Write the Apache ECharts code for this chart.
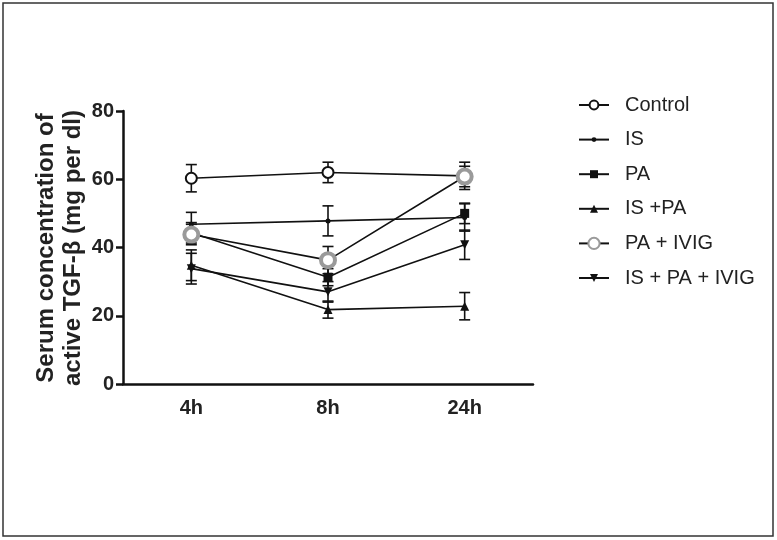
<!DOCTYPE html>
<html>
<head>
<meta charset="utf-8">
<script src="https://cdn.jsdelivr.net/npm/echarts@6/dist/echarts.min.js"></script>
<style>
  html, body { margin: 0; padding: 0; background: #fff; }
  #chart { width: 777px; height: 540px; }
</style>
</head>
<body>
<div id="chart"></div>
<script>
// time points
const categories = ['4h', '8h', '24h']

// means and errors per group
const control = [60.3, 62.0, 61.0]
const controlErr = [4, 3, 4]
const isGroup = [46.8, 47.8, 48.8]
const isErr = [3.5, 4.4, 4]
const pa = [44.3, 31.3, 50.0]
const paErr = [3, 2.5, 3]
const isPa = [34.8, 21.8, 22.8]
const isPaErr = [4.5, 2.5, 4]
const paIvig = [43.8, 36.3, 60.8]
const paIvigErr = [3, 4, 3]
const isPaIvig = [33.8, 27.0, 40.8]
const isPaIvigErr = [4.5, 3, 4.3]

const seriesNames = ['Control', 'IS', 'PA', 'IS +PA', 'PA + IVIG', 'IS + PA + IVIG']

const chart = echarts.init(document.getElementById('chart'))

function errData(vals, errs) {
  return vals.map((v, i) => [i, v - errs[i], v + errs[i]])
}

function errSeries(name, vals, errs) {
  return {
    name: name,
    type: 'custom',
    z: 1,
    silent: true,
    data: errData(vals, errs),
    renderItem: function (params, api) {
      const x = api.value(0)
      const lo = api.coord([x, api.value(1)])
      const hi = api.coord([x, api.value(2)])
      const hw = 5.5
      const style = { stroke: '#111', lineWidth: 1.6 }
      return {
        type: 'group',
        children: [
          { type: 'line', shape: { x1: lo[0], y1: lo[1], x2: hi[0], y2: hi[1] }, style: style },
          { type: 'line', shape: { x1: lo[0] - hw, y1: lo[1], x2: lo[0] + hw, y2: lo[1] }, style: style },
          { type: 'line', shape: { x1: hi[0] - hw, y1: hi[1], x2: hi[0] + hw, y2: hi[1] }, style: style }
        ]
      }
    }
  }
}

function lineSeries(name, vals, symbol, size, itemStyle) {
  return {
    name: name,
    type: 'line',
    z: 3,
    data: vals,
    symbol: symbol,
    symbolSize: size,
    showAllSymbol: true,
    lineStyle: { color: '#111', width: 1.6 },
    itemStyle: itemStyle,
    emphasis: { disabled: true }
  }
}

// one legend per entry so each icon can keep its own marker size
const legendIconH = [11, 6, 10, 10, 14, 10]
const legends = seriesNames.map((name, i) => ({
  data: [name],
  left: 578,
  top: 95 + i * 34.6,
  padding: 0,
  itemWidth: 30,
  itemHeight: legendIconH[i],
  selectedMode: false,
  textStyle: { fontSize: 20, color: '#222', padding: [0, 0, 0, 11], lineHeight: 20 }
}))

const option = {
  animation: false,
  backgroundColor: '#fff',
  textStyle: { fontFamily: 'Liberation Sans, Arial, sans-serif' },
  graphic: [
    {
      type: 'rect',
      shape: { x: 3, y: 3, width: 770, height: 533 },
      style: { fill: 'none', stroke: '#333', lineWidth: 1.5 }
    },
    {
      type: 'text',
      x: 60,
      y: 248,
      rotation: Math.PI / 2,
      style: {
        text: 'Serum concentration of\nactive TGF-β (mg per dl)',
        font: 'bold 24px Liberation Sans, Arial, sans-serif',
        fill: '#222',
        align: 'center',
        verticalAlign: 'middle',
        lineHeight: 27
      }
    }
  ],
  legend: legends,
  grid: { left: 123, right: 244, top: 111, bottom: 156 },
  xAxis: {
    type: 'category',
    data: categories,
    boundaryGap: true,
    axisLine: { lineStyle: { color: '#111', width: 2.5 } },
    axisTick: { alignWithLabel: true, length: 7, lineStyle: { color: '#111', width: 2.5 } },
    axisLabel: { fontSize: 20, fontWeight: 'bold', color: '#222', margin: 14 }
  },
  yAxis: {
    type: 'value',
    min: 0,
    max: 80,
    interval: 20,
    axisLine: { show: true, lineStyle: { color: '#111', width: 2.5 } },
    axisTick: { show: true, length: 7, lineStyle: { color: '#111', width: 2.5 } },
    axisLabel: { fontSize: 20, fontWeight: 'bold', color: '#222', margin: 9 },
    splitLine: { show: false }
  },
  series: [
    errSeries('e1', control, controlErr),
    errSeries('e2', isGroup, isErr),
    errSeries('e3', pa, paErr),
    errSeries('e4', isPa, isPaErr),
    errSeries('e5', paIvig, paIvigErr),
    errSeries('e6', isPaIvig, isPaIvigErr),
    lineSeries(seriesNames[0], control, 'emptyCircle', 11, { color: '#111', borderWidth: 1.1 }),
    lineSeries(seriesNames[1], isGroup, 'circle', 5, { color: '#111' }),
    lineSeries(seriesNames[2], pa, 'rect', 9, { color: '#111' }),
    lineSeries(seriesNames[3], isPa, 'triangle', 9, { color: '#111' }),
    lineSeries(seriesNames[4], paIvig, 'circle', 14, { color: '#fff', borderColor: '#9a9a9a', borderWidth: 4 }),
    lineSeries(seriesNames[5], isPaIvig, 'path://M0,0 L10,0 L5,9 Z', 9, { color: '#111' })
  ]
}

chart.setOption(option)
</script>
</body>
</html>
